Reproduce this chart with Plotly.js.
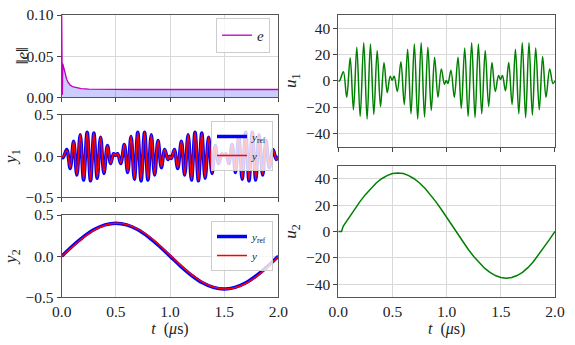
<!DOCTYPE html>
<html>
<head>
<meta charset="utf-8">
<script src="https://cdn.plot.ly/plotly-3.0.1.min.js"></script>
<style>
  html, body { margin: 0; padding: 0; background: #fff; }
  #plot1 { width: 575px; height: 345px; }
</style>
</head>
<body>
<div id="plot1"></div>
<script>
//time axis ticks, shared by all panels (microseconds)
var t_ticks = [0.0, 0.5, 1.0, 1.5, 2.0];

//error norm ||e||
var t_e = [0, 0.006, 0.010, 0.015, 0.02, 0.03, 0.046, 0.06, 0.077, 0.1, 0.14, 0.18,
  0.25, 0.35, 0.5, 0.7, 1.0, 1.5, 2.0];
var e_norm = [0.1, 0.003, 0.041, 0.038, 0.035, 0.028, 0.022, 0.018, 0.015, 0.013, 0.0115, 0.0105,
  0.0099, 0.0097, 0.0096, 0.0095, 0.0095, 0.0095, 0.0095];

//oscillating channel: times of peaks / troughs
var t_osc = [0.000, 0.012, 0.047, 0.078, 0.110, 0.140, 0.171, 0.202, 0.235, 0.266,
  0.297, 0.328, 0.359, 0.390, 0.422, 0.452, 0.479, 0.497, 0.516, 0.545,
  0.578, 0.609, 0.640, 0.671, 0.702, 0.733, 0.765, 0.796, 0.827, 0.858,
  0.889, 0.920, 0.951, 0.980, 0.997, 1.012,
  1.040, 1.071, 1.105, 1.135, 1.167, 1.198, 1.231, 1.262, 1.293, 1.324,
  1.356, 1.388, 1.418, 1.449, 1.479, 1.497, 1.515, 1.543, 1.573, 1.604,
  1.635, 1.666, 1.698, 1.729, 1.760, 1.791, 1.822, 1.855, 1.886, 1.917,
  1.951, 1.981, 2.000];

var y1_ref = [0, -0.02, 0.08, -0.15, 0.18, -0.23, 0.26, -0.29, 0.29, -0.30,
  0.28, -0.27, 0.23, -0.21, 0.13, -0.09, 0.03, 0.01, 0.03, -0.09,
  0.14, -0.20, 0.24, -0.28, 0.29, -0.30, 0.29, -0.29, 0.26, -0.23,
  0.19, -0.14, 0.08, -0.04, 0.00, -0.03,
  0.08, -0.15, 0.18, -0.23, 0.26, -0.29, 0.29, -0.30, 0.28, -0.27,
  0.23, -0.21, 0.13, -0.09, 0.03, 0.01, 0.03, -0.09, 0.14, -0.20,
  0.24, -0.28, 0.29, -0.30, 0.29, -0.29, 0.26, -0.23, 0.19, -0.14,
  0.08, -0.04, 0.00];

var y1_out = [0, -0.01, 0.07, -0.14, 0.18, -0.22, 0.26, -0.28, 0.29, -0.29,
  0.28, -0.26, 0.23, -0.20, 0.13, -0.09, 0.03, 0.01, 0.03, -0.08,
  0.14, -0.19, 0.24, -0.27, 0.29, -0.29, 0.29, -0.28, 0.26, -0.22,
  0.19, -0.13, 0.08, -0.04, 0.00, -0.03,
  0.08, -0.14, 0.18, -0.22, 0.26, -0.28, 0.29, -0.29, 0.28, -0.26,
  0.23, -0.20, 0.13, -0.09, 0.03, 0.01, 0.03, -0.08, 0.14, -0.19,
  0.24, -0.27, 0.29, -0.29, 0.29, -0.28, 0.26, -0.22, 0.19, -0.13,
  0.08, -0.04, 0.00];

var u1 = [0, 0, 7, -12.5, 17.5, -22, 25.5, -27, 29, -29,
  28, -25.5, 23, -19.5, 14, -9, 3.5, 0.5, 3.5, -8,
  14.5, -18, 24, -25, 28, -29, 29, -27.5, 25.5, -22.5,
  18, -12.5, 9, -2.5, 0.3, -2,
  8, -12.5, 18, -21, 25, -27, 29, -28, 28, -25,
  23, -19.5, 14, -8, 4, 1, 4, -7.5, 14, -18,
  24, -25, 29, -28, 29, -26, 25, -22, 18.5, -12.5,
  9, -2, 0];

//slow channel
var t_slow = [0.0, 0.1, 0.2, 0.3, 0.4, 0.5, 0.6, 0.7, 0.8, 0.9, 1.0,
  1.1, 1.2, 1.3, 1.4, 1.5, 1.6, 1.7, 1.8, 1.9, 2.0];
var y2_ref = [0, 0.124, 0.235, 0.324, 0.380, 0.400, 0.380, 0.324, 0.235, 0.124, 0,
  -0.124, -0.235, -0.324, -0.380, -0.400, -0.380, -0.324, -0.235, -0.124, 0];
var y2_out = [0, 0.112, 0.224, 0.316, 0.376, 0.399, 0.384, 0.332, 0.246, 0.136, 0.012,
  -0.112, -0.224, -0.316, -0.376, -0.399, -0.384, -0.332, -0.246, -0.136, -0.006];

var t_u2 = [0, 0.03, 0.045, 0.1, 0.15, 0.2, 0.25, 0.3, 0.35, 0.4, 0.45, 0.5, 0.55,
  0.6, 0.65, 0.7, 0.75, 0.8, 0.85, 0.9, 0.95, 1.0, 1.05, 1.1, 1.15, 1.2, 1.25,
  1.3, 1.35, 1.4, 1.45, 1.5, 1.55, 1.6, 1.65, 1.7, 1.75, 1.8, 1.85, 1.9, 1.95, 2.0];
var u2 = [0, 0, 4, 10.8, 16.9, 22.7, 28, 32.8, 36.9, 40.1, 42.5, 44, 44.5,
  44, 42.5, 40.1, 36.9, 32.8, 28, 22.7, 16.9, 10.8, 4.5, -1.8, -7.9, -13.7, -19,
  -23.8, -27.9, -31.1, -33.5, -35, -35.5, -35, -33.5, -31.1, -27.5, -23, -17.5, -12, -6, 0];

var serif = "'Liberation Serif', 'DejaVu Serif', serif";

//common axis look
function xax(domain, anchor, labels) {
  var ax = {
    domain: domain, anchor: anchor, range: [0, 2],
    tickvals: t_ticks, tickformat: '.1f', showticklabels: labels,
    ticks: labels ? '' : 'outside', ticklen: 4, tickcolor: '#444',
    showline: true, mirror: true, linecolor: '#555', linewidth: 1,
    showgrid: true, gridcolor: '#d8d8d8', zeroline: false,
    tickfont: {family: serif, size: 15.5, color: '#222'}
  };
  if (labels) {
    ax.title = {text: '<i>t</i>  (<i>μ</i>s)', font: {family: serif, size: 16, color: '#222'}, standoff: 2};
  }
  return ax;
}
//bare twin axis that only carries the tick marks under a labelled bottom axis
function xticks(domain, anchor, over) {
  return {
    domain: domain, anchor: anchor, overlaying: over, range: [0, 2],
    tickvals: t_ticks, showticklabels: false, ticks: 'outside', ticklen: 4, tickcolor: '#444',
    showline: false, showgrid: false, zeroline: false
  };
}
function yax(domain, anchor, range, ticks, fmt, title, gap) {
  return {
    domain: domain, anchor: anchor, range: range,
    tickvals: ticks, tickformat: fmt,
    ticks: 'outside', ticklen: 4, tickcolor: '#444',
    showline: true, mirror: true, linecolor: '#555', linewidth: 1,
    showgrid: true, gridcolor: '#d8d8d8', zeroline: false,
    tickfont: {family: serif, size: 15.5, color: '#222'},
    title: {text: title, font: {family: serif, size: 17, color: '#222'}, standoff: gap}
  };
}

function draw() {
  try {
    //shaded area under ||e|| (no legend), then the line itself
    var errFill = {
      x: t_e, y: e_norm, type: 'scatter', mode: 'none', showlegend: false,
      fill: 'tozeroy', fillcolor: 'rgba(0,0,255,0.2)',
      xaxis: 'x', yaxis: 'y'
    };
    var err = {
      x: t_e, y: e_norm, name: '<i>e</i>', type: 'scatter', mode: 'lines',
      line: {color: '#bf00bf', width: 1.3},
      xaxis: 'x', yaxis: 'y', legend: 'legend'
    };
    var y1r = {
      x: t_osc, y: y1_ref, name: '<i>y</i><sub>ref</sub>', type: 'scatter', mode: 'lines',
      line: {color: '#0000ff', width: 3.5, shape: 'spline'},
      xaxis: 'x2', yaxis: 'y2', legend: 'legend2'
    };
    var y1o = {
      x: t_osc, y: y1_out, name: '<i>y</i>', type: 'scatter', mode: 'lines',
      line: {color: '#ff0000', width: 1.5, shape: 'spline'},
      xaxis: 'x2', yaxis: 'y2', legend: 'legend2'
    };
    var y2r = {
      x: t_slow, y: y2_ref, name: '<i>y</i><sub>ref</sub>', type: 'scatter', mode: 'lines',
      line: {color: '#0000ff', width: 3.5, shape: 'spline'},
      xaxis: 'x3', yaxis: 'y3', legend: 'legend3'
    };
    var y2o = {
      x: t_slow, y: y2_out, name: '<i>y</i>', type: 'scatter', mode: 'lines',
      line: {color: '#ff0000', width: 1.5, shape: 'spline'},
      xaxis: 'x3', yaxis: 'y3', legend: 'legend3'
    };
    var u1tr = {
      x: t_osc, y: u1, type: 'scatter', mode: 'lines', showlegend: false,
      line: {color: '#008000', width: 1.5, shape: 'spline'},
      xaxis: 'x4', yaxis: 'y4'
    };
    var u2tr = {
      x: t_u2, y: u2, type: 'scatter', mode: 'lines', showlegend: false,
      line: {color: '#008000', width: 1.5},
      xaxis: 'x5', yaxis: 'y5'
    };
    var data = [errFill, err, y1r, y1o, y2r, y2o, u1tr, u2tr];

    var L = [0.1073, 0.4841], R = [0.5883, 0.9652];
    var legbox = {
      bgcolor: 'rgba(255,255,255,0.8)', bordercolor: '#cccccc', borderwidth: 1,
      xanchor: 'right', yanchor: 'top', xref: 'paper', yref: 'paper'
    };
    var layout = {
      width: 575, height: 345,
      margin: {l: 0, r: 0, t: 0, b: 0},
      paper_bgcolor: '#ffffff', plot_bgcolor: '#ffffff',
      font: {family: serif, color: '#222'},
      xaxis: xax(L, 'y', false),
      yaxis: yax([0.718, 0.9565], 'x', [0, 0.1], [0, 0.05, 0.1], '.2f', '', 0),
      xaxis2: xax(L, 'y2', false),
      yaxis2: yax([0.4281, 0.6667], 'x2', [-0.5, 0.5], [-0.5, 0, 0.5], '.1f', '<i>y</i><sub>1</sub>', 4),
      xaxis3: xax(L, 'y3', true),
      yaxis3: yax([0.1383, 0.3768], 'x3', [-0.5, 0.5], [-0.5, 0, 0.5], '.1f', '<i>y</i><sub>2</sub>', 4),
      xaxis4: xax(R, 'y4', false),
      yaxis4: yax([0.5748, 0.9565], 'x4', [-50, 50], [-40, -20, 0, 20, 40], 'd', '<i>u</i><sub>1</sub>', 4),
      xaxis5: xax(R, 'y5', true),
      yaxis5: yax([0.1383, 0.5197], 'x5', [-50, 50], [-40, -20, 0, 20, 40], 'd', '<i>u</i><sub>2</sub>', 4),
      xaxis6: xticks(L, 'y3', 'x3'),
      xaxis7: xticks(R, 'y5', 'x5'),
      //the ||e|| label sits closer to its short tick labels than plotly's title allows
      annotations: [{
        text: '‖<i>e</i>‖', xref: 'paper', yref: 'paper', x: 0.0383, y: 0.837,
        xanchor: 'center', yanchor: 'middle', textangle: -90, showarrow: false,
        font: {family: serif, size: 17, color: '#222'}
      }],
      legend: Object.assign({}, legbox, {x: 0.4696, y: 0.948,
        font: {family: serif, size: 15, color: '#222'}}),
      legend2: Object.assign({}, legbox, {x: 0.4748, y: 0.6493,
        font: {family: serif, size: 11, color: '#222'}}),
      legend3: Object.assign({}, legbox, {x: 0.4748, y: 0.3594,
        font: {family: serif, size: 11, color: '#222'}})
    };

    Plotly.newPlot('plot1', data, layout, {displayModeBar: false, staticPlot: true});
  }
  catch (err) {
    console.error(err);
  }
}
//run function
draw();
</script>
</body>
</html>
